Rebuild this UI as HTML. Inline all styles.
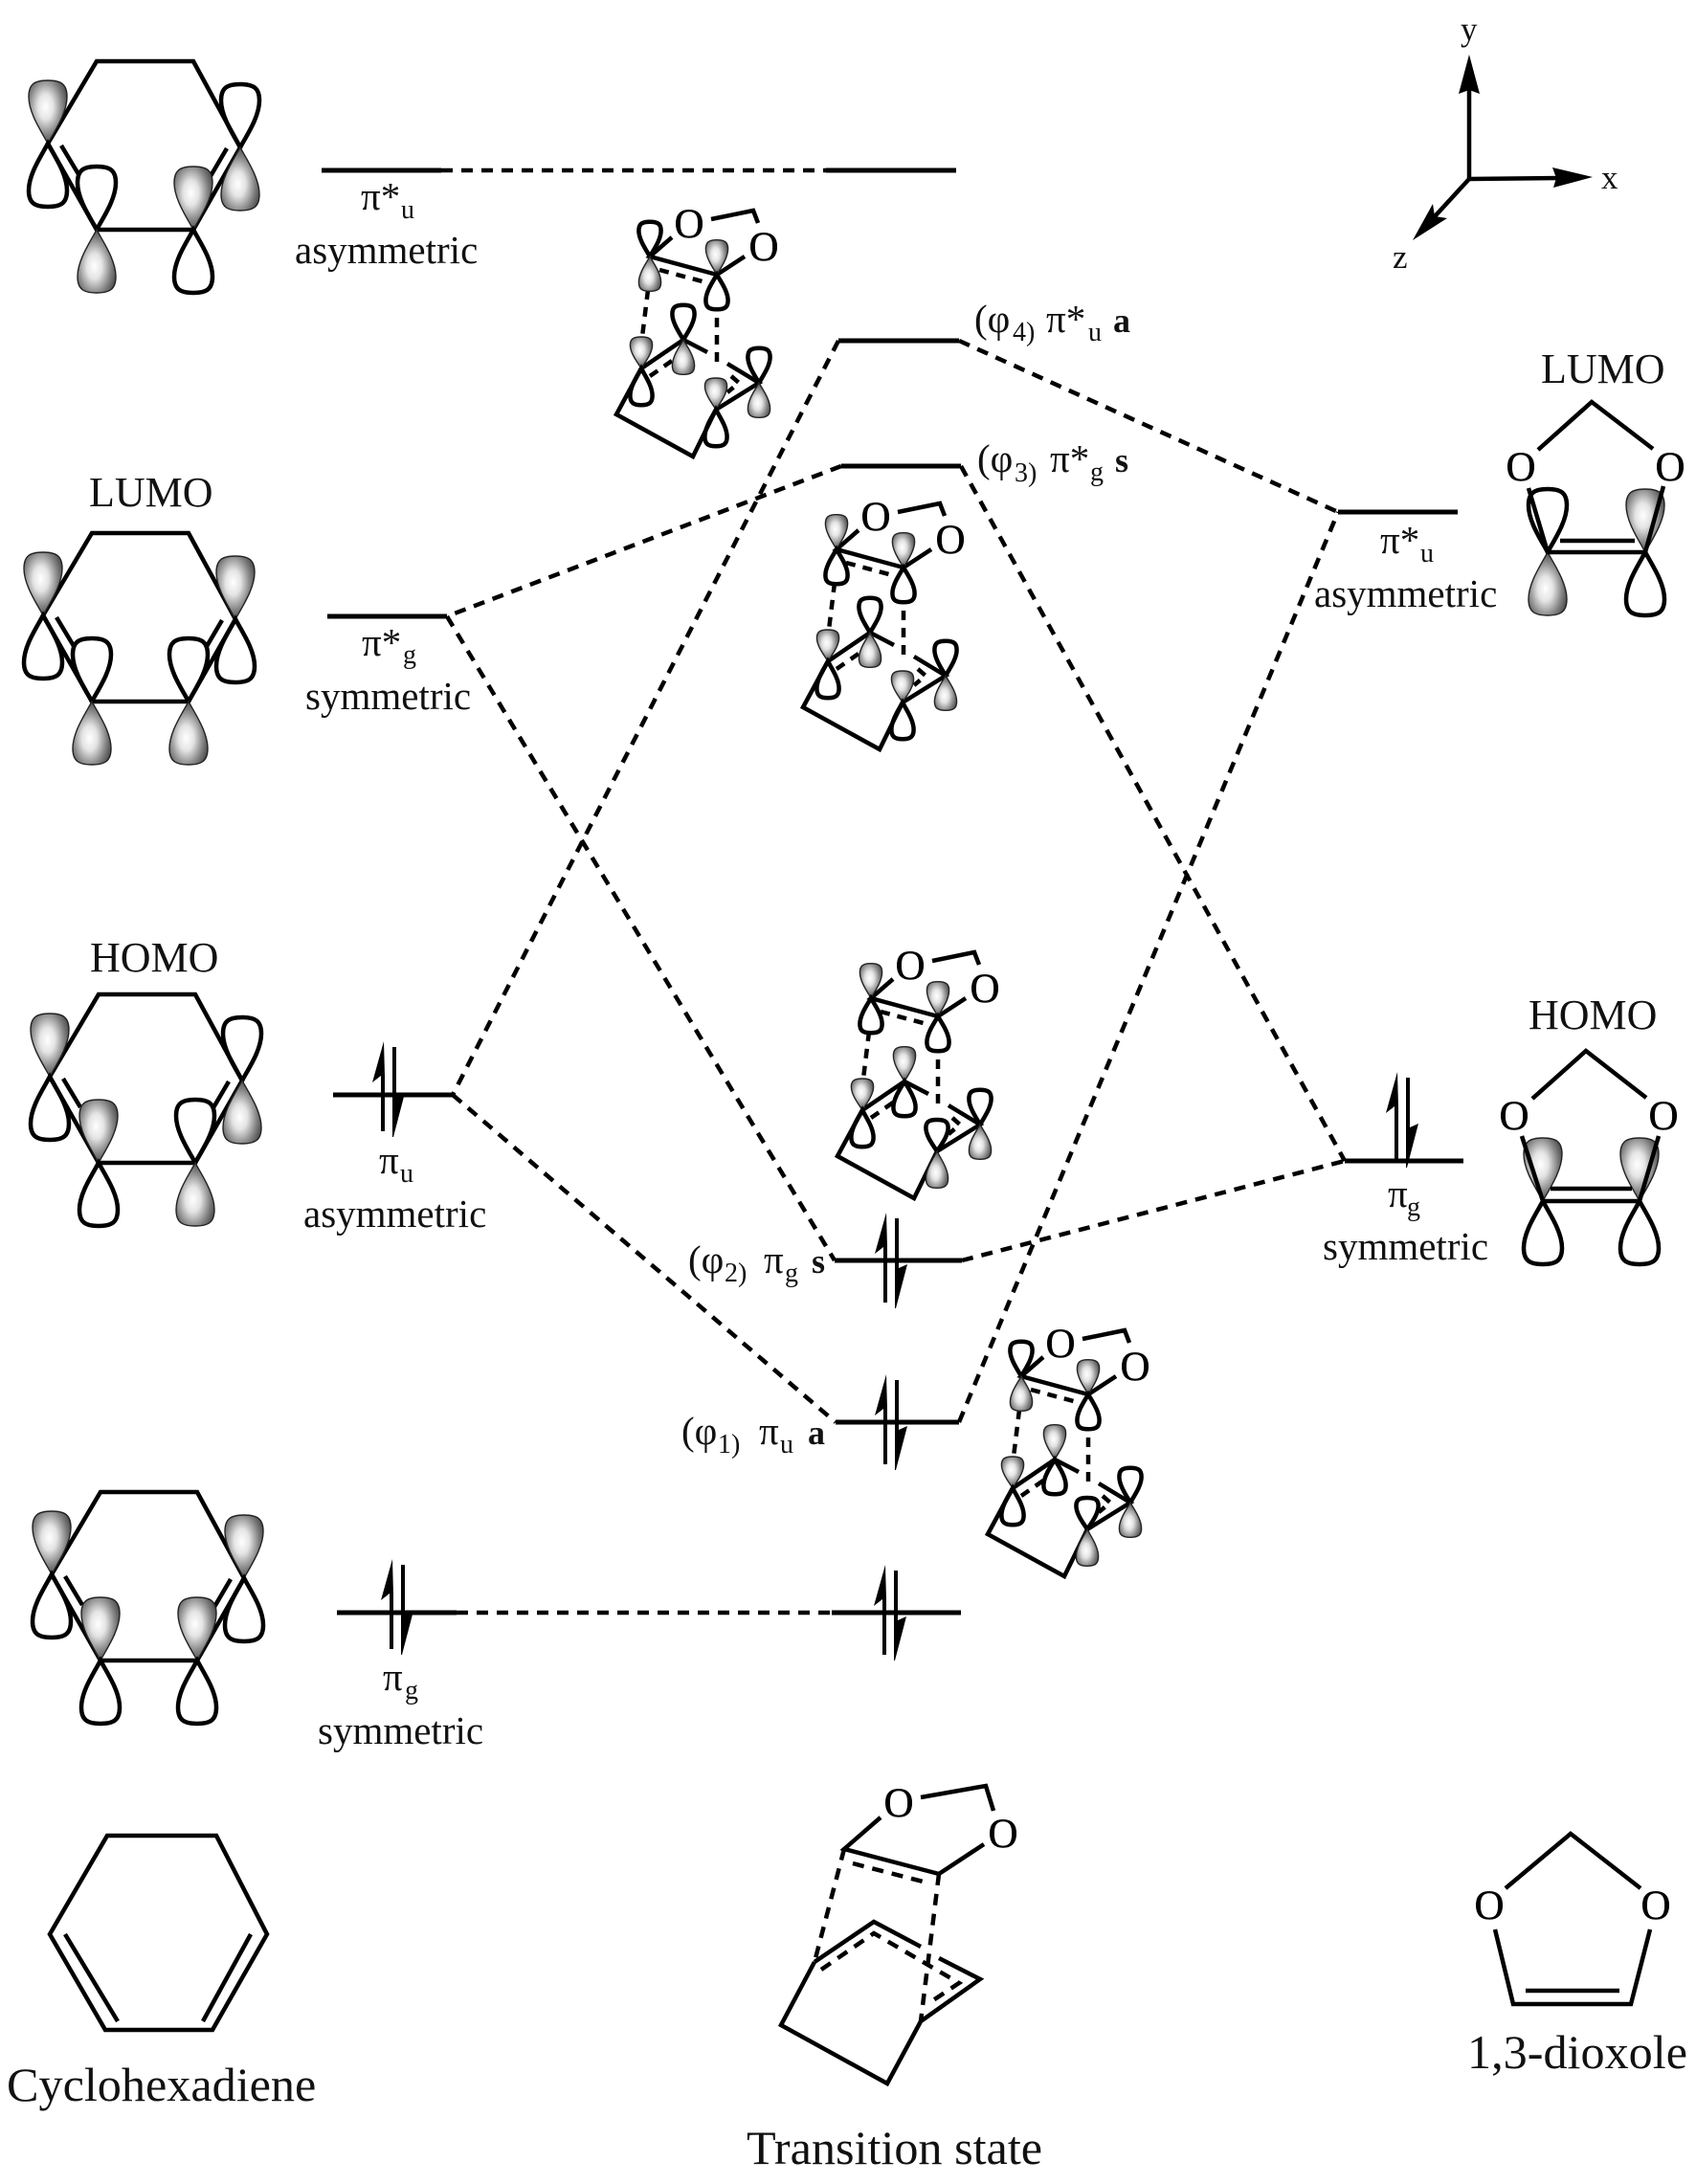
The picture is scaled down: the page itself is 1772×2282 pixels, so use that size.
<!DOCTYPE html>
<html>
<head>
<meta charset="utf-8">
<style>
html,body{margin:0;padding:0;background:#fff;}
svg{display:block;}
text{font-family:"Liberation Serif",serif;fill:#111;}
.t41{font-size:41px;}
.t44{font-size:44px;}
.t50{font-size:50.2px;}
.sub{font-size:28px;}
.b{font-weight:bold;}
.O{font-size:43px;text-anchor:middle;stroke:#000;stroke-width:.5;fill:#000;}
.s{stroke:#000;stroke-width:4.5;fill:none;stroke-linejoin:miter;}
.d{stroke:#000;stroke-width:4.5;fill:none;stroke-dasharray:12 9;}
.lv{stroke:#000;stroke-width:5;fill:none;}
</style>
</head>
<body>
<svg xmlns="http://www.w3.org/2000/svg" width="1772" height="2282" viewBox="0 0 1772 2282">
<defs>
<radialGradient id="g" cx=".44" cy=".42" r=".62">
<stop offset="0" stop-color="#ffffff"/>
<stop offset=".32" stop-color="#e4e4e4"/>
<stop offset=".72" stop-color="#808080"/>
<stop offset="1" stop-color="#444"/>
</radialGradient>
<path id="o" d="M0,0 C-7,-13 -20,-32 -20,-49 C-20,-62 -14,-66 0,-66 C14,-66 20,-62 20,-49 C20,-32 7,-13 0,0Z" fill="none" stroke="#000" stroke-width="4.5" vector-effect="non-scaling-stroke"/>
<path id="f" d="M0,0 C-7,-13 -20,-32 -20,-49 C-20,-62 -14,-66 0,-66 C14,-66 20,-62 20,-49 C20,-32 7,-13 0,0Z" fill="url(#g)" stroke="#222" stroke-width="1.4" vector-effect="non-scaling-stroke"/>
<g id="hex">
<path class="s" d="M-51,86 L0,0 L101,0 L150,90 L101,176 L0,176 Z"/>
<path class="s" d="M-37,88 L-19,118 M136,91 L119,120"/>
</g>
<g id="ts">
<path class="s" d="M702,248 L679,268 L749,287 L778,268 M743,229 L787,220 L792,233 M670,385 L714,355 L739,368 M760,380 L793,400 L748,428 M670,385 L644,433 L724,477 L748,428"/>
<path class="s" stroke-dasharray="10 8" d="M689,282 L741,296 M677,303 L671,352 M749,332 L749,383 M679,393 L702,377 M764,393 L772,400 L760,410"/>
</g>
<g id="spin">
<path d="M-2,38 L-2,-20 L-11,-13 L1,-56 L2,-20 L2,38 Z" fill="#000"/>
<path d="M10,-50 L14,-50 L14,2 L23,-2 L11,44 L10,44 Z" fill="#000"/>
</g>
</defs>

<rect width="1772" height="2282" fill="#fff"/>

<!-- Connectors -->
<path class="d" d="M461,178 L863,178"/>
<path class="d" d="M876,356 L473,1144"/>
<path class="d" d="M1002,356 L1398,535"/>
<path class="d" d="M879,487 L467,644"/>
<path class="d" d="M1004,487 L1405,1213"/>
<path class="d" d="M467,644 L872,1317"/>
<path class="d" d="M473,1144 L873,1486"/>
<path class="d" d="M1005,1317 L1405,1213"/>
<path class="d" d="M1002,1486 L1398,535"/>
<path class="d" d="M477,1685 L869,1685"/>

<!-- Levels -->
<path class="lv" d="M336,178 H461 M863,178 H999 M876,356 H1002 M879,487 H1004 M342,644 H467 M348,1144 H473 M1398,535 H1523 M1405,1213 H1529 M872,1317 H1005 M873,1486 H1002 M352,1685 H477 M869,1685 H1004"/>

<!-- Spin arrows -->
<use href="#spin" transform="translate(400,1144)"/>
<use href="#spin" transform="translate(1459,1176)"/>
<use href="#spin" transform="translate(409,1685)"/>
<use href="#spin" transform="translate(925,1323)"/>
<use href="#spin" transform="translate(925,1492)"/>
<use href="#spin" transform="translate(924,1691)"/>

<!-- Left MOs -->
<g transform="translate(101,64)">
<use href="#hex"/>
<use href="#f" transform="translate(-51,86)"/><use href="#o" transform="translate(-51,86) scale(1,-1)"/>
<use href="#o" transform="translate(0,176)"/><use href="#f" transform="translate(0,176) scale(1,-1)"/>
<use href="#f" transform="translate(101,176)"/><use href="#o" transform="translate(101,176) scale(1,-1)"/>
<use href="#o" transform="translate(150,90)"/><use href="#f" transform="translate(150,90) scale(1,-1)"/>
</g>
<g transform="translate(96,557)">
<use href="#hex"/>
<use href="#f" transform="translate(-51,86)"/><use href="#o" transform="translate(-51,86) scale(1,-1)"/>
<use href="#o" transform="translate(0,176)"/><use href="#f" transform="translate(0,176) scale(1,-1)"/>
<use href="#o" transform="translate(101,176)"/><use href="#f" transform="translate(101,176) scale(1,-1)"/>
<use href="#f" transform="translate(150,90)"/><use href="#o" transform="translate(150,90) scale(1,-1)"/>
</g>
<g transform="translate(103,1039)">
<use href="#hex"/>
<use href="#f" transform="translate(-51,86)"/><use href="#o" transform="translate(-51,86) scale(1,-1)"/>
<use href="#f" transform="translate(0,176)"/><use href="#o" transform="translate(0,176) scale(1,-1)"/>
<use href="#o" transform="translate(101,176)"/><use href="#f" transform="translate(101,176) scale(1,-1)"/>
<use href="#o" transform="translate(150,90)"/><use href="#f" transform="translate(150,90) scale(1,-1)"/>
</g>
<g transform="translate(105,1559)">
<use href="#hex"/>
<use href="#f" transform="translate(-51,86)"/><use href="#o" transform="translate(-51,86) scale(1,-1)"/>
<use href="#f" transform="translate(0,176)"/><use href="#o" transform="translate(0,176) scale(1,-1)"/>
<use href="#f" transform="translate(101,176)"/><use href="#o" transform="translate(101,176) scale(1,-1)"/>
<use href="#f" transform="translate(150,90)"/><use href="#o" transform="translate(150,90) scale(1,-1)"/>
</g>

<!-- TS MOs -->
<g transform="translate(0,0)">
<use href="#ts"/>
<use href="#o" transform="translate(679,268) scale(.58,.55)"/><use href="#f" transform="translate(679,268) scale(.58,-.55)"/>
<use href="#f" transform="translate(749,287) scale(.58,.55)"/><use href="#o" transform="translate(749,287) scale(.58,-.55)"/>
<use href="#f" transform="translate(670,385) scale(.58,.5)"/><use href="#o" transform="translate(670,385) scale(.58,-.58)"/>
<use href="#o" transform="translate(714,355) scale(.58,.55)"/><use href="#f" transform="translate(714,355) scale(.58,-.55)"/>
<use href="#o" transform="translate(793,400) scale(.58,.55)"/><use href="#f" transform="translate(793,400) scale(.58,-.55)"/>
<use href="#f" transform="translate(748,428) scale(.58,.5)"/><use href="#o" transform="translate(748,428) scale(.58,-.58)"/>
<text class="O" x="720" y="248">O</text><text class="O" x="798" y="272">O</text>
</g>
<g transform="translate(195,306)">
<use href="#ts"/>
<use href="#f" transform="translate(679,268) scale(.58,.55)"/><use href="#o" transform="translate(679,268) scale(.58,-.55)"/>
<use href="#f" transform="translate(749,287) scale(.58,.55)"/><use href="#o" transform="translate(749,287) scale(.58,-.55)"/>
<use href="#f" transform="translate(670,385) scale(.58,.5)"/><use href="#o" transform="translate(670,385) scale(.58,-.58)"/>
<use href="#o" transform="translate(714,355) scale(.58,.55)"/><use href="#f" transform="translate(714,355) scale(.58,-.55)"/>
<use href="#o" transform="translate(793,400) scale(.58,.55)"/><use href="#f" transform="translate(793,400) scale(.58,-.55)"/>
<use href="#f" transform="translate(748,428) scale(.58,.5)"/><use href="#o" transform="translate(748,428) scale(.58,-.58)"/>
<text class="O" x="720" y="248">O</text><text class="O" x="798" y="272">O</text>
</g>
<g transform="translate(231,775)">
<use href="#ts"/>
<use href="#f" transform="translate(679,268) scale(.58,.55)"/><use href="#o" transform="translate(679,268) scale(.58,-.55)"/>
<use href="#f" transform="translate(749,287) scale(.58,.55)"/><use href="#o" transform="translate(749,287) scale(.58,-.55)"/>
<use href="#f" transform="translate(670,385) scale(.58,.5)"/><use href="#o" transform="translate(670,385) scale(.58,-.58)"/>
<use href="#f" transform="translate(714,355) scale(.58,.55)"/><use href="#o" transform="translate(714,355) scale(.58,-.55)"/>
<use href="#o" transform="translate(793,400) scale(.58,.55)"/><use href="#f" transform="translate(793,400) scale(.58,-.55)"/>
<use href="#o" transform="translate(748,428) scale(.58,.5)"/><use href="#f" transform="translate(748,428) scale(.58,-.58)"/>
<text class="O" x="720" y="248">O</text><text class="O" x="798" y="272">O</text>
</g>
<g transform="translate(388,1170)">
<use href="#ts"/>
<use href="#o" transform="translate(679,268) scale(.58,.55)"/><use href="#f" transform="translate(679,268) scale(.58,-.55)"/>
<use href="#f" transform="translate(749,287) scale(.58,.55)"/><use href="#o" transform="translate(749,287) scale(.58,-.55)"/>
<use href="#f" transform="translate(670,385) scale(.58,.5)"/><use href="#o" transform="translate(670,385) scale(.58,-.58)"/>
<use href="#f" transform="translate(714,355) scale(.58,.55)"/><use href="#o" transform="translate(714,355) scale(.58,-.55)"/>
<use href="#o" transform="translate(793,400) scale(.58,.55)"/><use href="#f" transform="translate(793,400) scale(.58,-.55)"/>
<use href="#o" transform="translate(748,428) scale(.58,.5)"/><use href="#f" transform="translate(748,428) scale(.58,-.58)"/>
<text class="O" x="720" y="248">O</text><text class="O" x="798" y="272">O</text>
</g>

<!-- Right LUMO -->
<use href="#o" transform="translate(1617,577)"/><use href="#f" transform="translate(1617,577) scale(1,-1)"/>
<use href="#f" transform="translate(1719,577)"/><use href="#o" transform="translate(1719,577) scale(1,-1)"/>
<path class="s" d="M1607,470 L1663,420 L1727,469 M1597,510 L1617,577 L1719,577 L1738,508 M1630,565 H1708"/>
<text class="O" x="1589" y="502">O</text><text class="O" x="1745" y="502">O</text>

<!-- Right HOMO -->
<use href="#f" transform="translate(1612,1255)"/><use href="#o" transform="translate(1612,1255) scale(1,-1)"/>
<use href="#f" transform="translate(1713,1255)"/><use href="#o" transform="translate(1713,1255) scale(1,-1)"/>
<path class="s" d="M1601,1148 L1657,1098 L1720,1147 M1590,1187 L1612,1255 L1713,1255 L1733,1187 M1620,1242 H1705"/>
<text class="O" x="1582" y="1180">O</text><text class="O" x="1738" y="1180">O</text>

<!-- Axes -->
<path class="s" stroke-width="5" d="M1535,187 V90 M1535,187 L1630,186 M1535,187 L1490,236"/>
<path d="M1535,57 L1546,98 L1535,94 L1524,98 Z" fill="#000"/>
<path d="M1664,185 L1622,175 L1626,186 L1623,196 Z" fill="#000"/>
<path d="M1476,251 L1497,213 L1499,226 L1512,228 Z" fill="#000"/>
<text x="1526" y="42" style="font-size:35px">y</text>
<text x="1673" y="197" style="font-size:35px">x</text>
<text x="1455" y="280" style="font-size:35px">z</text>

<!-- Bottom structures -->
<path class="s" stroke-width="5" d="M112,1918 H226 L279,2021 L222,2121 H110 L52,2021 Z M68,2021 L123,2112 M262,2021 L212,2112"/>
<path class="s" d="M920,1899 L882,1932 L981,1958 L1028,1927 M962,1878 L1030,1866 L1038,1892 M851,2050 L913,2008 L962,2034 M981,2046 L1024,2068 L962,2112 L927,2177 L816,2116 L851,2050"/>
<path class="s" stroke-dasharray="12 9" d="M891,1947 L968,1967 M882,1932 L851,2050 M981,1958 L962,2112 M858,2058 L913,2020 L1002,2072 L975,2090"/>
<text class="O" x="939" y="1898">O</text><text class="O" x="1048" y="1930">O</text>
<path class="s" d="M1573,1973 L1641,1916 L1714,1973 M1562,2016 L1581,2094 H1704 L1724,2016 M1594,2080 H1692"/>
<text class="O" x="1556" y="2005">O</text><text class="O" x="1730" y="2005">O</text>

<!-- Left labels -->
<text class="t41" x="377" y="219">π*</text><text class="sub" x="419" y="228">u</text>
<text class="t41" x="308" y="275">asymmetric</text>
<text class="t44" x="93" y="529">LUMO</text>
<text class="t41" x="378" y="685">π*</text><text class="sub" x="421" y="693">g</text>
<text class="t41" x="319" y="741">symmetric</text>
<text class="t44" x="94" y="1015">HOMO</text>
<text class="t41" x="396" y="1226">π</text><text class="sub" x="418" y="1235">u</text>
<text class="t41" x="317" y="1282">asymmetric</text>
<text class="t41" x="400" y="1766">π</text><text class="sub" x="423" y="1775">g</text>
<text class="t41" x="332" y="1822">symmetric</text>

<!-- Right labels -->
<text class="t44" x="1610" y="400">LUMO</text>
<text class="t41" x="1442" y="578">π*</text><text class="sub" x="1484" y="587">u</text>
<text class="t41" x="1373" y="634">asymmetric</text>
<text class="t44" x="1597" y="1075">HOMO</text>
<text class="t41" x="1450" y="1261">π</text><text class="sub" x="1470" y="1270">g</text>
<text class="t41" x="1382" y="1316">symmetric</text>

<!-- Centre labels -->
<text class="t41" x="1018" y="347">(φ</text><text class="sub" x="1058" y="356">4)</text><text class="t41" x="1093" y="347">π*</text><text class="sub" x="1137" y="356">u</text><text class="t41 b" style="font-size:36px" x="1163" y="347">a</text>
<text class="t41" x="1021" y="493">(φ</text><text class="sub" x="1060" y="503">3)</text><text class="t41" x="1097" y="493">π*</text><text class="sub" x="1139" y="502">g</text><text class="t41 b" style="font-size:36px" x="1165" y="493">s</text>
<text class="t41" x="719" y="1330">(φ</text><text class="sub" x="757" y="1339">2)</text><text class="t41" x="798" y="1330">π</text><text class="sub" x="820" y="1339">g</text><text class="t41 b" style="font-size:36px" x="848" y="1330">s</text>
<text class="t41" x="712" y="1509">(φ</text><text class="sub" x="750" y="1518">1)</text><text class="t41" x="793" y="1509">π</text><text class="sub" x="815" y="1518">u</text><text class="t41 b" style="font-size:36px" x="844" y="1509">a</text>

<!-- Captions -->
<text class="t50" x="7" y="2195">Cyclohexadiene</text>
<text class="t50" x="780" y="2261">Transition state</text>
<text class="t50" x="1533" y="2161">1,3-dioxole</text>
</svg>
</body>
</html>
